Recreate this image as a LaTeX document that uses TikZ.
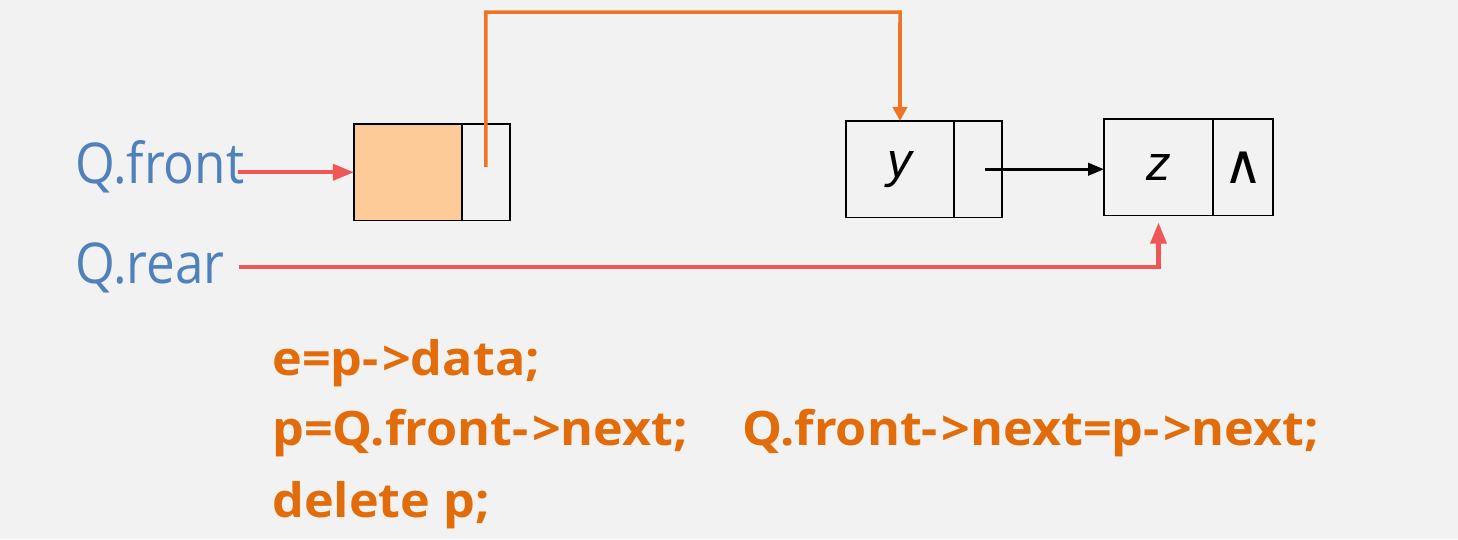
\documentclass[tikz,border=0pt]{standalone}
\usepackage{fontspec}
\setmainfont{Open Sans}
\newfontfamily\labelfont[FakeStretch=0.91]{Open Sans}
\newfontfamily\codefont[FakeStretch=1.06]{Open Sans}
\newfontfamily\cellfont{Liberation Sans}
\newfontfamily\symfont{DejaVu Sans}
\usetikzlibrary{positioning,arrows.meta}

\definecolor{bgGray}{HTML}{F2F2F2}
\definecolor{qBlue}{HTML}{4F81BD}
\definecolor{ptrRed}{HTML}{F05656}
\definecolor{ptrOrange}{HTML}{ED7424}
\definecolor{codeOrange}{HTML}{E36C0A}
\definecolor{headFill}{HTML}{FDCB97}

\newcommand{\ptrto}{-\kern2pt>}

\begin{document}
\begin{tikzpicture}[x=0.02cm, y=-0.02cm,
    cell/.style={rectangle, draw=black, line width=1.1pt, outer sep=0pt,
        inner sep=0pt, minimum height=1.93cm},
    datacell/.style={cell, minimum width=2.16cm},
    nextcell/.style={cell, minimum width=0.96cm},
    ptrlabel/.style={text=qBlue, font=\labelfont\fontsize{32}{34}\selectfont,
        inner sep=0pt},
    code/.style={text=codeOrange, anchor=base west, inner sep=0pt,
        font=\codefont\bfseries\fontsize{27}{30}\selectfont},
    redptr/.style={draw=ptrRed, line width=2.3pt,
        -{Triangle[length=12pt, width=9pt]}},
    orangeptr/.style={draw=ptrOrange, line width=2pt,
        -{Triangle[length=8pt, width=8pt]}},
    blackptr/.style={draw=black, line width=1.6pt,
        -{Triangle[length=9pt, width=7pt]}}
]
    \fill[bgGray] (0,0) rectangle (1458,539);
    \useasboundingbox (0,0) rectangle (1458,539);

    % pointer labels
    \node[ptrlabel, anchor=base west] (qfront) at (75,183) {Q.front};
    \node[ptrlabel, anchor=base west] (qrear) at (75,283) {Q.rear};

    % head node
    \node[datacell, fill=headFill, anchor=north west] (hd) at (354,124) {};
    \node[nextcell, right=0pt of hd] (hn) {};

    % node y
    \node[datacell, anchor=north west,
        font=\cellfont\itshape\fontsize{28}{28}\selectfont] (yd) at (846,121) {y};
    \node[nextcell, right=0pt of yd] (yn) {};

    % node z
    \node[datacell, minimum width=2.18cm, anchor=north west,
        font=\cellfont\itshape\fontsize{28}{28}\selectfont] (zd) at (1104,119) {z};
    \node[nextcell, minimum width=1.2cm, right=0pt of zd,
        font=\symfont\fontsize{31}{31}\selectfont] (zn) {∧};

    \coordinate (bend) at (900,12);

    % connectors
    \draw[redptr] ([xshift=-4pt]qfront.east |- hd.west) -- (hd.west);
    \draw[orangeptr] ([yshift=3pt]hn.center) |- (bend) -- (yd.north);
    \draw[blackptr] ([xshift=4pt]yn.center) -- (yn.center -| zd.west);
    \draw[redptr] ([xshift=8pt]qrear.east) -| ([yshift=-4pt]zd.south);

    % code lines
    \node[code] (c1) at (272,375) {e=p\ptrto data;};
    \node[code] (c2) at (272,445) {p=Q.front\ptrto next;};
    \node[code] (c3) at (272,517) {delete p;};
    \node[code] (c4) at (742,445) {Q.front\ptrto next=p\ptrto next;};
\end{tikzpicture}
\end{document}
